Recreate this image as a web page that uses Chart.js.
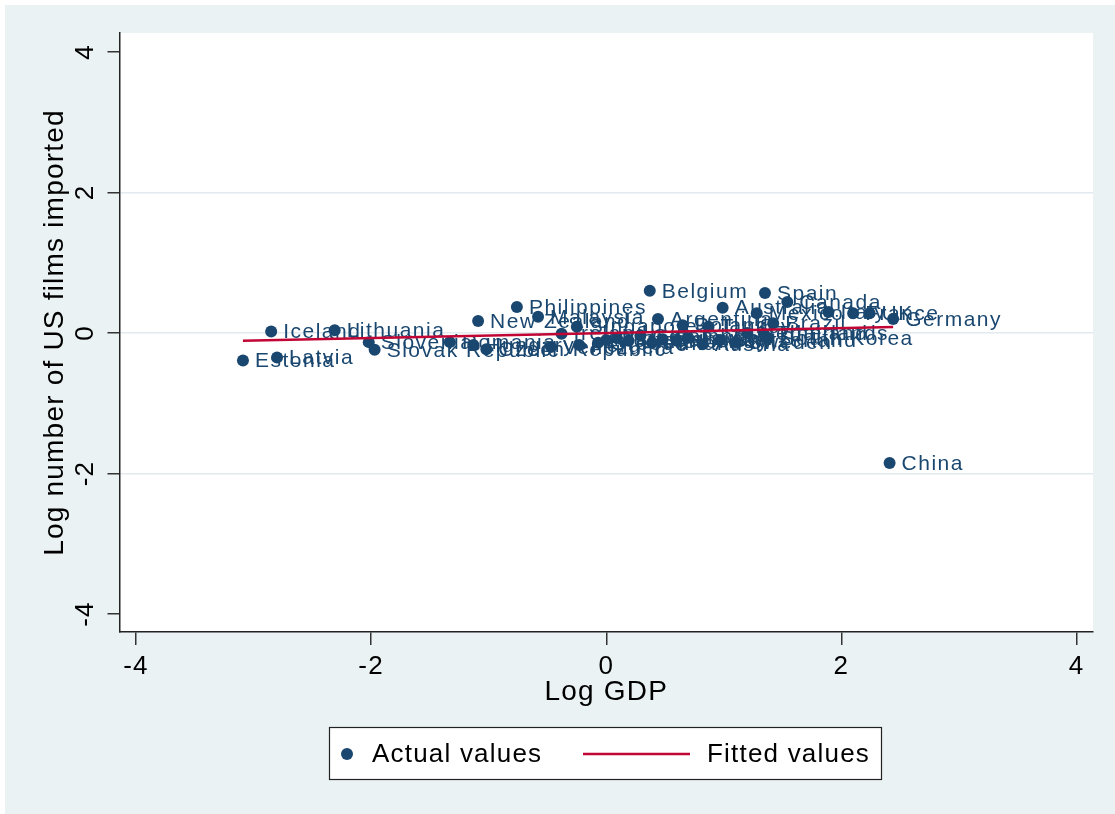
<!DOCTYPE html>
<html>
<head>
<meta charset="utf-8">
<script src="https://cdn.jsdelivr.net/npm/chart.js@4.4.1/dist/chart.umd.min.js"></script>
<style>
  html, body { margin: 0; padding: 0; background: #fff; }
  canvas { display: block; }
</style>
</head>
<body>
<canvas id="grafico" width="1115" height="814"></canvas>
<script>
// datos
const countries = [
  "Estonia", "Iceland", "Latvia", "Lithuania", "Slovenia", "Slovak Republic",
  "Romania", "Hungary", "Czech Republic", "New Zealand", "Philippines", "Malaysia",
  "Singapore", "Ireland", "Venezuela", "Peru", "Greece", "Portugal", "Israel",
  "Chile", "Colombia", "Finland", "Denmark", "Norway", "Taiwan", "Austria",
  "Switzerland", "Sweden", "Netherlands", "Thailand", "South Korea", "Argentina",
  "Poland", "Turkey", "Belgium", "Australia", "Mexico", "Brazil", "Spain",
  "Canada", "Italy", "France", "UK", "Germany", "China"
];
const logGdp = [
  -3.09, -2.85, -2.80, -2.31, -2.02, -1.97,
  -1.33, -1.13, -1.02, -1.09, -0.76, -0.58,
  -0.25, -0.38, -0.47, -0.23, -0.07, 0.00, 0.09,
  0.19, 0.29, 0.39, 0.48, 0.60, 0.69, 0.82,
  0.97, 1.10, 1.20, 1.34, 1.38, 0.44,
  0.65, 0.87, 0.37, 0.99, 1.28, 1.42, 1.35,
  1.54, 1.89, 2.10, 2.24, 2.44, 2.41
];
const logFilms = [
  -0.39, 0.02, -0.35, 0.04, -0.13, -0.24,
  -0.13, -0.17, -0.23, 0.17, 0.37, 0.23,
  0.09, -0.01, -0.20, -0.17, -0.14, -0.10, -0.07,
  -0.11, -0.04, -0.14, -0.09, -0.11, -0.07, -0.16,
  -0.10, -0.13, 0.00, -0.01, -0.07, 0.20,
  0.11, 0.09, 0.60, 0.36, 0.28, 0.14, 0.57,
  0.44, 0.30, 0.28, 0.28, 0.20, -1.85
];
const fitX = [-3.09, 2.44];
const fitY = [-0.11, 0.085];
const xTicks = [-4, -2, 0, 2, 4];
const yTicks = [-4, -2, 0, 2, 4];

const AZUL = "#1a476f";
const ROJO = "#c10534";
const FONDO = "#eaf2f3";
const FUENTE = "'Liberation Sans', Arial, sans-serif";

const fondo = {
  id: "fondo",
  beforeDraw(chart) {
    const c = chart.ctx;
    const a = chart.chartArea;
    c.save();
    c.fillStyle = "#fff";
    c.fillRect(0, 0, chart.width, chart.height);
    c.fillStyle = FONDO;
    c.fillRect(5, 5, chart.width - 5, chart.height - 5);
    c.fillStyle = "#fff";
    c.fillRect(a.left, a.top, a.right - a.left, a.bottom - a.top);
    c.restore();
    c.letterSpacing = "1.2px";
  }
};

const etiquetas = {
  id: "etiquetas",
  afterDatasetDraw(chart, args) {
    if (args.index !== 0) return;
    const c = chart.ctx;
    c.save();
    c.font = "21px " + FUENTE;
    c.letterSpacing = "1.5px";
    c.fillStyle = AZUL;
    c.textBaseline = "middle";
    c.textAlign = "left";
    args.meta.data.forEach((p, i) => {
      c.fillText(countries[i], p.x + 12, p.y + 1);
    });
    c.restore();
  }
};

const leyenda = {
  id: "leyenda",
  afterDraw(chart) {
    const c = chart.ctx;
    const ds = chart.data.datasets;
    c.save();
    c.fillStyle = "#fff";
    c.fillRect(329, 727, 552, 52);
    c.strokeStyle = "#222";
    c.lineWidth = 1.2;
    c.strokeRect(329.5, 727.5, 552, 52);
    c.fillStyle = AZUL;
    c.beginPath();
    c.arc(347, 754, 6, 0, Math.PI * 2);
    c.fill();
    c.strokeStyle = ROJO;
    c.lineWidth = 2.5;
    c.beginPath();
    c.moveTo(583, 754);
    c.lineTo(690, 754);
    c.stroke();
    c.fillStyle = "#000";
    c.font = "26px " + FUENTE;
    c.textBaseline = "middle";
    c.fillText(ds[0].label, 372, 755);
    c.fillText(ds[1].label, 707, 755);
    c.restore();
  }
};

const ctx = document.getElementById("grafico").getContext("2d");
const myChart = new Chart(ctx, {
  type: "scatter",
  data: {
    datasets: [{
      label: "Actual values",
      data: logGdp.map((x, i) => ({ x: x, y: logFilms[i] })),
      backgroundColor: AZUL,
      borderWidth: 0,
      pointRadius: 6,
      order: 1
    }, {
      type: "line",
      label: "Fitted values",
      data: fitX.map((x, i) => ({ x: x, y: fitY[i] })),
      borderColor: ROJO,
      borderWidth: 2.5,
      pointRadius: 0,
      fill: false,
      order: 0
    }]
  },
  options: {
    responsive: false,
    animation: false,
    events: [],
    layout: {
      padding: { left: 38, right: 22, top: 33, bottom: 105 }
    },
    scales: {
      x: {
        type: "linear",
        min: -4.14,
        max: 4.14,
        afterBuildTicks: s => { s.ticks = xTicks.map(v => ({ value: v })); },
        afterFit: s => { s.height = 77; },
        grid: {
          drawOnChartArea: false,
          drawTicks: true,
          tickLength: 13,
          tickColor: "#333",
          lineWidth: 1.5
        },
        border: { color: "#222", width: 1.5 },
        ticks: {
          color: "#000",
          font: { family: FUENTE, size: 26 },
          padding: 6,
          maxRotation: 0
        },
        title: {
          display: true,
          text: "Log GDP",
          color: "#000",
          font: { family: FUENTE, size: 28 },
          padding: 0
        }
      },
      y: {
        type: "linear",
        min: -4.256,
        max: 4.27,
        afterBuildTicks: s => { s.ticks = yTicks.map(v => ({ value: v })); },
        afterFit: s => { s.width = 81.5; },
        grid: {
          color: c => (c.tick && Math.abs(c.tick.value) === 4) ? "rgba(0,0,0,0)" : "#e1eaee",
          tickColor: "#333",
          tickLength: 12,
          lineWidth: 1.5
        },
        border: { color: "#222", width: 1.5 },
        ticks: {
          color: "#000",
          font: { family: FUENTE, size: 26 },
          padding: 10,
          minRotation: 90,
          maxRotation: 90,
          crossAlign: "center"
        },
        title: {
          display: true,
          text: "Log number of US films imported",
          color: "#000",
          font: { family: FUENTE, size: 28 },
          padding: 0
        }
      }
    },
    plugins: {
      legend: { display: false },
      tooltip: { enabled: false }
    }
  },
  plugins: [fondo, etiquetas, leyenda]
});
</script>
</body>
</html>
